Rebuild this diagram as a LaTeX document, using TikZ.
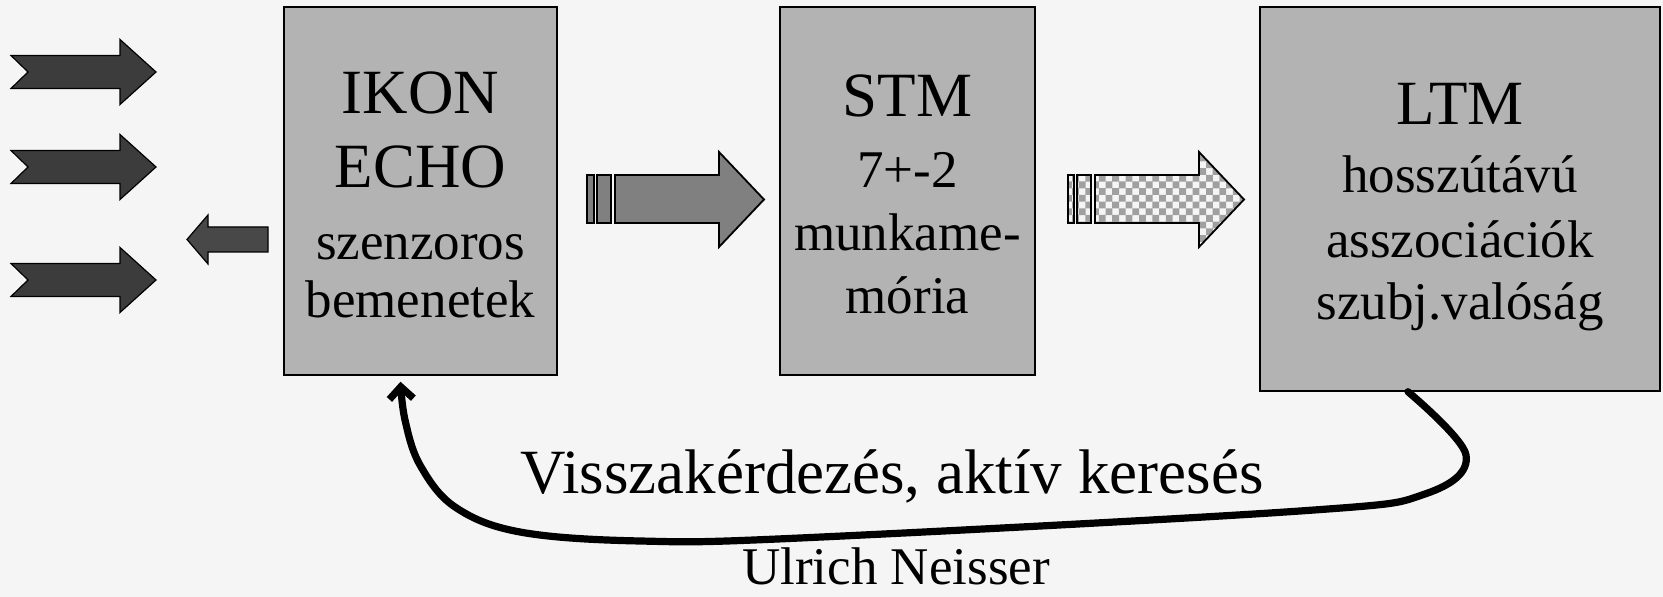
\documentclass[tikz,border=0pt]{standalone}
\usepackage{fontspec}
\setmainfont{Liberation Serif}
\usetikzlibrary{arrows.meta,patterns}
\definecolor{bgcol}{RGB}{245,245,245}
\definecolor{boxcol}{RGB}{179,179,179}
\definecolor{incol}{RGB}{60,60,60}
\definecolor{backcol}{RGB}{72,72,72}
\definecolor{midcol}{RGB}{128,128,128}
\definecolor{chkcol}{RGB}{160,160,160}
% larger checkerboard than the one of the patterns library
\pgfdeclarepatternformonly{bigchecker}{\pgfqpoint{-.1pt}{-.1pt}}{\pgfqpoint{6.8pt}{6.8pt}}{\pgfqpoint{6.7pt}{6.7pt}}{%
  \pgfpathrectangle{\pgfqpoint{0pt}{0pt}}{\pgfqpoint{3.4pt}{3.4pt}}%
  \pgfpathrectangle{\pgfqpoint{3.35pt}{3.35pt}}{\pgfqpoint{3.4pt}{3.4pt}}%
  \pgfusepath{fill}}
\tikzset{
  box/.style={draw=black,line width=0.75pt,fill=boxcol,inner sep=0pt},
  hd/.style={anchor=base,font=\fontsize{31.5}{36}\selectfont},
  sub/.style={anchor=base,font=\fontsize{26.5}{30}\selectfont},
  inarrow/.style={draw=black,line width=0.6pt,fill=incol,line join=miter},
  backarrow/.style={draw=black,line width=0.6pt,fill=backcol},
  midarrow/.style={draw=black,line width=0.9pt,fill=midcol},
  chkarrow/.style={draw=black,line width=0.9pt,fill=white,pattern=bigchecker,pattern color=chkcol},
  feedback/.style={line width=3.6pt,line cap=round,line join=round,-{Straight Barb[length=6pt,width=12pt]}}
}
\begin{document}
\begin{tikzpicture}[x=0.5pt,y=-0.5pt]
    \fill[bgcol] (0,0) rectangle (1663,597);
    \useasboundingbox (0,0) rectangle (1663,597);
    % incoming stimuli
    \foreach \y in {72,167,280}
    \draw[inarrow,shift={(0,\y)}] (11,-16.5) -- (120,-16.5) -- (120,-32.5) -- (156,0)
        -- (120,32.5) -- (120,16.5) -- (11,16.5) -- (28,0) -- cycle;
    \draw[backarrow] (268,227) -- (208,227) -- (208,215) -- (187,239.5) -- (208,264)
        -- (208,252) -- (268,252) -- cycle;
    % the three stores
    \node[box,minimum width=136.5pt,minimum height=184pt] (ikon) at (420.5,191) {};
    \node[box,minimum width=127.5pt,minimum height=184pt] (stm) at (907.5,191) {};
    \node[box,minimum width=200pt,minimum height=192pt] (ltm) at (1460,199) {};
    \node[hd] (ikon1) at (420.5,114) {IKON};
    \node[hd] (ikon2) at (420.5,188) {ECHO};
    \node[sub] (ikon3) at (420.5,260) {szenzoros};
    \node[sub] (ikon4) at (420.5,318) {bemenetek};
    \node[hd] (stm1) at (907.5,117) {STM};
    \node[sub] (stm2) at (907.5,188) {7+-2};
    \node[sub] (stm3) at (907.5,251) {munkame-};
    \node[sub] (stm4) at (907.5,314) {mória};
    \node[hd] (ltm1) at (1460,125) {LTM};
    \node[sub] (ltm2) at (1460,193) {hosszútávú};
    \node[sub] (ltm3) at (1460,258) {asszociációk};
    \node[sub] (ltm4) at (1460,320) {szubj.valóság};
    % transfer arrows
    \begin{scope}[shift={(587,0)}]
    \draw[midarrow] (0,175) rectangle (7,223);
    \draw[midarrow] (10,175) rectangle (24,223);
    \draw[midarrow] (28,175) -- (132,175) -- (132,152) -- (177,199.5) -- (132,247)
        -- (132,223) -- (28,223) -- cycle;
    \end{scope}
    \begin{scope}[shift={(1068,0)}]
    \draw[chkarrow] (0,175) rectangle (6,223);
    \draw[chkarrow] (9,175) rectangle (23,223);
    \draw[chkarrow] (27,175) -- (131,175) -- (131,152) -- (176,199.5) -- (131,247)
        -- (131,223) -- (27,223) -- cycle;
    \end{scope}
    % feedback loop
    \coordinate (fbstart) at ([xshift=-26pt]ltm.south);
    \coordinate (fbend) at ([xshift=-10pt,yshift=-3pt]ikon.south);
    \draw[feedback] plot[smooth,tension=0.6] coordinates {(fbstart) (1466,455) (1425,494)
        (1300,511) (800,538) (640,541) (520,532) (455,507) (420,465) (405,420) (fbend)};
    \node[hd] (fbtext) at (892,494) {Visszakérdezés, aktív keresés};
    \node[sub,inner sep=0pt] (author) at (896,584) {Ulrich Neisser};
\end{tikzpicture}
\end{document}
